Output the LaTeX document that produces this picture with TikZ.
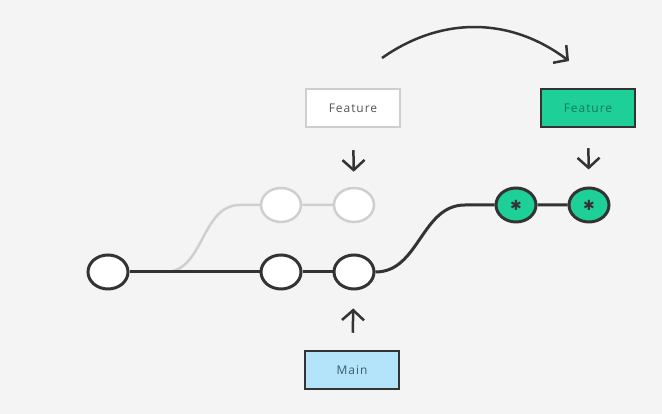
\documentclass[tikz,border=0pt]{standalone}
\usepackage{fontspec}
\setmainfont{Open Sans}[LetterSpace=8]
\newfontfamily\symfont{DejaVu Sans}
\usetikzlibrary{arrows.meta,shapes.geometric}
\definecolor{bgcol}{HTML}{F4F4F4}
\definecolor{inkcol}{HTML}{333333}
\definecolor{ghostcol}{HTML}{CFCFCF}
\definecolor{greencol}{HTML}{1ECF98}
\definecolor{bluecol}{HTML}{B4E4FA}
\definecolor{greentext}{HTML}{157A58}
\definecolor{bluetext}{HTML}{3C5A70}
\definecolor{graytext}{HTML}{555555}
\begin{document}
\begin{tikzpicture}[x=1pt,y=1pt,
            commit/.style={ellipse, draw=inkcol, line width=3pt, fill=white, minimum width=40pt, minimum height=34pt, inner sep=0pt},
            ghost/.style={commit, draw=ghostcol, line width=2.5pt},
            branch/.style={rectangle, draw=inkcol, line width=2.5pt, minimum width=94pt, minimum height=38pt, inner sep=0pt, font=\fontsize{12}{14}\selectfont},
            pointer/.style={-{Straight Barb[length=10pt,width=22pt]}, line width=2.5pt, draw=inkcol}
            ]
            \fill[bgcol] (0,0) rectangle (662,414);
            \useasboundingbox (0,0) rectangle (662,414);

            \node[commit] (c1) at (108,142) {};
            \node[commit] (c2) at (281,142) {};
            \node[commit] (c3) at (354,142) {};
            \node[ghost] (g1) at (281,209) {};
            \node[ghost] (g2) at (354,209) {};
            \node[commit,fill=greencol] (f1) at (516,209) {\symfont\fontsize{14}{14}\selectfont\color{inkcol}✱};
            \node[commit,fill=greencol] (f2) at (589,209) {\symfont\fontsize{14}{14}\selectfont\color{inkcol}✱};

            \node[branch,draw=ghostcol,fill=white,text=graytext] (oldfeat) at (353,306) {Feature};
            \node[branch,fill=greencol,text=greentext] (newfeat) at (588,306) {Feature};
            \node[branch,fill=bluecol,text=bluetext] (main) at (352,44) {Main};

            \coordinate (fork) at (165,142);
            \coordinate (forktop) at (240,209);
            \coordinate (rise) at (465,209);
            \coordinate (arcfrom) at (382,356);
            \coordinate (arcto) at (569,353);

            \draw[ghostcol,line width=2.5pt] (fork) to[out=0,in=180] (forktop) -- (g1) -- (g2);
            \draw[inkcol,line width=3pt] (c1) -- (c2) -- (c3);
            \draw[inkcol,line width=3pt] (c3.east) to[out=0,in=180] (rise) -- (f1) -- (f2);

            \draw[pointer,shorten <=22pt,shorten >=15pt] (oldfeat) -- (g2);
            \draw[pointer,shorten <=20pt,shorten >=17pt] (newfeat) -- (f2);
            \draw[pointer,shorten <=17pt,shorten >=18pt] (main) -- (c3);
            \draw[pointer] (arcfrom) to[bend left=36] (arcto);

            \end{tikzpicture}
\end{document}
